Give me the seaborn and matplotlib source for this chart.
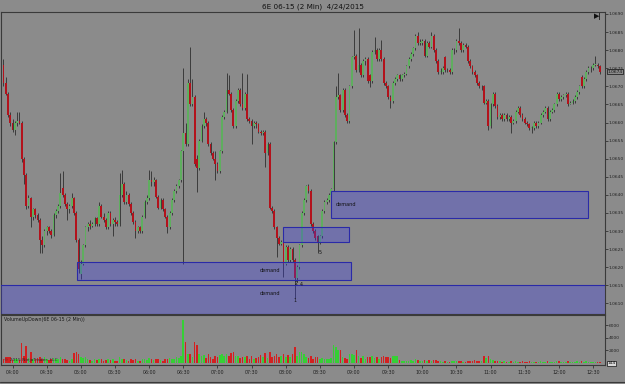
import numpy as np
import pandas as pd
import matplotlib
matplotlib.use("Agg")
import matplotlib.pyplot as plt
import seaborn as sns
from matplotlib.patches import Rectangle

# ---------------- data ----------------
title = "6E 06-15 (2 Min)  4/24/2015"
start_minute = 232          # 03:52, first bar
bar_minutes = 2
base_price = 1.0600         # prices below are in pips above this

open_pips = [
    76, 71, 68, 62, 60, 58, 60, 60.5, 60, 50,
    45.5, 37, 39, 34, 36, 34.5, 33, 27.5, 26, 30,
    31, 30, 29, 34.5, 35.5, 37, 42, 40, 37.5, 36,
    37, 39, 35, 27.5, 18, 21, 26, 31, 32, 31.5,
    32, 33.5, 32, 37, 34, 33, 31, 35, 32, 33,
    32.5, 32, 40, 43, 38, 40, 37.5, 35, 32.5, 30,
    31, 30, 34, 38, 39, 44, 43.5, 44, 39.5, 36.5,
    38.5, 36, 34, 31, 35, 38.5, 41, 42.5, 44, 52,
    57, 54, 71, 65, 67, 50, 47.5, 55, 59, 61,
    60, 54, 51.5, 50, 48.5, 46.5, 52, 61.5, 63, 69,
    68, 63.5, 59, 66, 69, 65, 64, 68, 61, 60.5,
    59, 60, 59.5, 57.5, 57, 57.5, 51.5, 54, 36.5, 35.5,
    31, 28, 26.5, 27, 21, 25.5, 22, 25, 22, 17,
    20, 26, 35, 38.5, 42.5, 41, 32, 30, 28.5, 27,
    28.5, 35.5, 38, 38.5, 40, 41.5, 54.5, 67, 67.5, 63.5,
    69, 62, 60.5, 70, 78, 78.5, 74.5, 76, 73, 77,
    77.5, 73, 71.5, 79.5, 80, 77.5, 80, 77.5, 71, 70,
    67, 66, 71, 72, 73, 72, 73, 73.5, 75.5, 77.5,
    79, 80.5, 84, 82, 82, 82.5, 78.5, 82, 81, 84,
    80, 77, 74, 74, 78, 74.5, 74.5, 74, 80, 80,
    82.5, 82, 80, 81.5, 81, 77, 75.5, 74, 73, 71,
    70, 70, 65.5, 66, 59, 65, 68, 64.5, 61.5, 62,
    61, 62, 61, 61.5, 60, 60.5, 63, 64, 62, 61,
    60, 59.5, 58.5, 58.5, 60, 59, 60, 62, 63, 64,
    61, 63, 63.5, 65, 68, 66.5, 67, 67.5, 68, 65,
    65.5, 66, 67, 68.5, 72.5, 70, 72, 74, 75, 75,
    76, 76, 75.5,
]
high_pips = [
    77.5, 72.5, 68.5, 63, 61, 60.5, 63, 63, 60.5, 50.5,
    46, 40, 39.5, 36.5, 36.5, 35, 33.5, 28.5, 30.5, 31.5,
    31.5, 30.5, 35, 36, 37.5, 46, 46.5, 40.5, 38, 37.5,
    40.5, 39.5, 35.5, 28, 22, 26.5, 31.5, 32.5, 33, 32.5,
    34, 34, 38, 37.5, 35, 33.5, 35.5, 35.5, 33.5, 34,
    33, 46, 47, 43.5, 41, 40.5, 38, 35.5, 33, 31.5,
    31.5, 34.5, 38.5, 40, 47, 46.5, 45, 44.5, 40, 39,
    39, 36.5, 34.5, 35.5, 39, 41.5, 43, 44.5, 52.5, 75,
    60, 72, 81, 72, 67.5, 51, 55.5, 59.5, 63, 61.5,
    60.5, 54.5, 52, 52, 49, 52.5, 62, 63.5, 73.7, 73,
    68.5, 64, 66.5, 69.5, 69.5, 73.7, 68.5, 73.5, 61.5, 61,
    60.5, 60.5, 60, 58, 58, 58, 54.5, 54.5, 37, 36,
    31.5, 28.5, 27.5, 27.5, 26, 26, 25.5, 25.5, 22.5, 20.5,
    26.5, 35.5, 39, 42.7, 43, 41.5, 32.5, 30.5, 29, 29,
    36, 38.5, 39, 40.5, 42, 55, 70, 73.7, 68, 69.5,
    69.5, 62.5, 70.5, 78.5, 85.6, 79, 86, 76.5, 77.5, 78,
    78, 73.5, 80, 83.6, 80.5, 80.5, 82.8, 78, 71.5, 70.5,
    67.5, 71.5, 72.5, 73.5, 73.5, 73.5, 74, 76, 78, 79.5,
    81, 84.5, 85, 83, 83, 83, 82.5, 82.5, 85, 84.5,
    80.5, 77.5, 75, 75.5, 78.5, 75, 75, 80.5, 80.5, 83,
    86, 82.5, 82, 82, 81.5, 77.5, 76, 74.5, 73.5, 71.5,
    70.5, 70.5, 66.5, 66.5, 65.5, 68.5, 68.5, 65, 62.5, 62.5,
    62.5, 62.5, 62, 62, 61, 63.5, 64.5, 64.5, 62.5, 61.5,
    60.5, 60, 59, 60.5, 60.5, 60.5, 62.5, 63.5, 64.5, 64.5,
    63.5, 64, 65.5, 68.5, 68.5, 67.5, 68, 68.5, 68.5, 66,
    66.5, 67.5, 69, 70.5, 73, 72.5, 74.5, 75.5, 75.5, 76.5,
    78.5, 76.5, 76,
]
low_pips = [
    70, 67.5, 61.5, 59, 57.5, 56.5, 59, 59.5, 49, 43,
    36, 36.5, 31, 33, 33.5, 32.5, 24, 24, 25.5, 29,
    29.5, 28, 28.5, 33.5, 35, 36.5, 39.5, 37, 33, 35,
    36.5, 34.5, 27, 18.5, 16.8, 20.5, 25.5, 30, 30.5, 31,
    31.5, 31.5, 31.5, 33.5, 32.5, 30.5, 30.5, 31.5, 28.5, 31.5,
    31.5, 31.5, 39.5, 37.5, 37.5, 37, 34.5, 32, 28, 29.5,
    29.5, 29.5, 33.5, 37.5, 38.5, 42.5, 42.5, 39, 36, 36,
    35.5, 33.5, 29.4, 30.5, 34.5, 38, 40.5, 42, 43.5, 21,
    53.5, 53.5, 64.5, 64.5, 48, 40.7, 47, 54.5, 58.5, 59,
    53.5, 51, 49.5, 44, 46, 46, 51.5, 61, 62.5, 67.5,
    63, 58.5, 58.5, 65.5, 64.5, 63.5, 63.5, 60.5, 60, 54,
    58.5, 58.5, 57, 56.5, 56.5, 47.6, 51, 36, 35, 30.5,
    22.7, 26, 26, 17.2, 20.5, 21.5, 21.5, 21.5, 11.6, 16,
    19.5, 25.5, 34.5, 38, 40.5, 31.5, 29.5, 27.5, 23.8, 26.5,
    28, 35, 37.5, 38, 39.5, 41, 54, 66.5, 63, 63,
    61.5, 59.8, 60, 69.5, 77.5, 74, 74, 72.5, 72.5, 76,
    71, 69.8, 71, 79, 77, 77, 77, 70.5, 69.5, 66.5,
    64, 65.5, 70.5, 71.5, 71.5, 71.5, 72.5, 73, 75, 77,
    78.5, 80, 81.5, 81.5, 81.5, 78, 78, 80.5, 80.5, 79.5,
    76.5, 73.5, 73.5, 73.5, 74, 74, 73.5, 73.5, 79, 79.5,
    81.5, 79.5, 79.5, 80.5, 76.5, 75, 73.5, 72.5, 70.5, 69.5,
    69, 65, 65, 57.9, 58.5, 64.5, 64, 61, 61, 60.5,
    60.5, 60.5, 60.5, 57, 59.5, 60, 62.5, 61.5, 60.5, 59.5,
    59, 58, 57, 58, 58.5, 58.5, 59.5, 61.5, 62.5, 60.5,
    60.5, 62.5, 63, 64.5, 66, 66, 66.5, 67, 64.5, 65,
    65, 65.5, 66.5, 68, 69.5, 69.5, 71.5, 73.5, 74, 74.5,
    75.5, 75, 73.5,
]
close_pips = [
    71, 68, 62, 60, 58, 60, 60.5, 60, 50, 45.5,
    37, 39, 34, 36, 34.5, 33, 27.5, 26, 30, 31,
    30, 29, 34.5, 35.5, 37, 40.5, 40, 37.5, 36, 37,
    39, 35, 27.5, 19.5, 21, 26, 31, 32, 31.5, 32,
    33.5, 32, 37, 34, 33, 31, 35, 32, 33, 32.5,
    32, 40, 43, 38, 40, 37.5, 35, 32.5, 30, 31,
    30, 34, 38, 39, 44, 43.5, 44, 39.5, 36.5, 38.5,
    36, 34, 31, 35, 38.5, 41, 42.5, 44, 52, 57,
    54, 71, 65, 67, 48.5, 47.5, 55, 59, 61, 60,
    54, 51.5, 50, 48.5, 46.5, 52, 61.5, 63, 69, 68,
    63.5, 59, 66, 69, 65, 64, 68, 61, 60.5, 59,
    60, 59.5, 57.5, 57, 57.5, 51.5, 54, 36.5, 35.5, 31,
    28, 26.5, 27, 21, 25.5, 22, 25, 22, 17, 20,
    26, 35, 38.5, 42.5, 41, 32, 30, 28, 27, 28.5,
    35.5, 38, 38.5, 40, 41.5, 54.5, 67, 67.5, 63.5, 69,
    62, 60.5, 70, 78, 78.5, 74.5, 76, 73, 77, 77.5,
    71.5, 71.5, 79.5, 80, 77.5, 80, 77.5, 71, 70, 67,
    66, 71, 72, 73, 72, 73, 73.5, 75.5, 77.5, 79,
    80.5, 84, 82, 82, 82.5, 78.5, 82, 81, 84, 80,
    77, 74, 74, 75, 74.5, 74.5, 74, 80, 80, 82.5,
    82, 80, 81.5, 81, 77, 75.5, 74, 73, 71, 70,
    70, 65.5, 66, 59, 65, 68, 64.5, 61.5, 62, 61,
    62, 61, 61.5, 60, 60.5, 63, 64, 62, 61, 60,
    59.5, 58.5, 58.5, 60, 59, 60, 62, 63, 64, 61,
    63, 63.5, 65, 68, 66.5, 67, 67.5, 68, 65, 65.5,
    66, 67, 68.5, 70, 70, 72, 74, 75, 75, 76,
    76, 75.5, 74,
]
volume = [
    600, 900, 1000, 900, 500, 700, 600, 500, 3200, 1100,
    2700, 800, 1800, 700, 600, 800, 1000, 700, 900, 600,
    500, 700, 800, 600, 700, 900, 600, 700, 500, 400,
    600, 1600, 1800, 1400, 900, 800, 900, 700, 500, 400,
    600, 500, 700, 600, 400, 500, 600, 500, 700, 400,
    300, 900, 700, 600, 500, 400, 600, 500, 700, 400,
    300, 600, 700, 500, 800, 600, 500, 700, 600, 500,
    400, 600, 700, 800, 600, 700, 900, 800, 1200, 6800,
    3300, 1500, 1400, 900, 3300, 2800, 1500, 1200, 1300, 800,
    1400, 900, 700, 1100, 900, 1300, 1500, 1200, 1500, 1100,
    1600, 1700, 1200, 1100, 800, 1000, 900, 1200, 700, 1100,
    600, 800, 1000, 1300, 900, 1600, 800, 1800, 1000, 1200,
    1500, 900, 1100, 1500, 900, 1300, 1000, 1400, 2500, 1200,
    1700, 1800, 1500, 900, 800, 1200, 700, 900, 1000, 700,
    800, 700, 600, 700, 800, 2800, 2500, 2000, 2100, 900,
    800, 700, 1500, 1500, 1300, 2000, 1200, 800, 1100, 700,
    1000, 900, 1200, 800, 900, 700, 1000, 1100, 900, 1000,
    800, 1200, 1200, 1100, 500, 400, 350, 400, 300, 450,
    300, 600, 500, 400, 350, 500, 400, 450, 300, 500,
    450, 400, 300, 250, 350, 250, 200, 400, 300, 350,
    300, 400, 250, 200, 400, 350, 300, 450, 350, 300,
    300, 1200, 800, 1100, 600, 500, 400, 350, 300, 250,
    300, 250, 200, 300, 250, 300, 250, 200, 300, 250,
    200, 300, 250, 200, 250, 200, 300, 250, 200, 300,
    250, 200, 250, 300, 400, 250, 200, 250, 400, 250,
    200, 250, 300, 250, 300, 250, 300, 200, 250, 200,
    250, 200, 144,
]

# demand zones: (start minute, end minute, low pips, high pips)
zone_start = [297, 229, 477.6, 519.7]
zone_end = [537.3, 770, 535.5, 745.2]
zone_low = [16.4, 7.0, 26.9, 33.5]
zone_high = [21.3, 15.0, 31.0, 41.0]
zone_label = ["demand", "demand", "", "demand"]
zone_label_x = [466, 466, 0, 533]
zone_label_y = [19.1, 12.8, 0, 37.4]

swing_labels = ["1", "2", "4", "5"]
swing_x = [488, 489.5, 494, 510]
swing_y = [10.9, 15.6, 15.3, 24.0]

price_ticks = [1.0610, 1.0615, 1.0620, 1.0625, 1.0630, 1.0635, 1.0640, 1.0645,
               1.0650, 1.0655, 1.0660, 1.0665, 1.0670, 1.0675, 1.0680, 1.0685, 1.0690]
time_labels = ["04:00", "04:30", "05:00", "05:30", "06:00", "06:30", "07:00", "07:30",
               "08:00", "08:30", "09:00", "09:30", "10:00", "10:30", "11:00", "11:30",
               "12:00", "12:30"]
volume_ticks = [2000, 4000, 6000]
volume_title = "VolumeUpDown(6E 06-15 (2 Min))"
copyright_text = "\u00A9 2015 NinjaTrader, LLC"

n = len(close_pips)
lens = [len(open_pips), len(high_pips), len(low_pips), len(close_pips), len(volume)]
assert len(set(lens)) == 1, lens

# ---------------- frame ----------------
def p(v):
    return base_price + np.asarray(v, dtype=float) / 10000.0

df = pd.DataFrame({
    "t": start_minute + bar_minutes * np.arange(n),
    "open": p(open_pips), "high": p(high_pips), "low": p(low_pips),
    "close": p(close_pips), "volume": volume,
})
df["dir"] = np.where(df["close"] >= df["open"], "up", "down")

BG = "#8b8b8b"
UP = "#5fae5f"
DOWN = "#b3121c"
WICK = "#262626"
FRAME = "#3a3a3a"

sns.set_theme(style="white")
plt.rcParams["font.family"] = ["DejaVu Sans"]
plt.rcParams["axes.facecolor"] = BG

W, H = 625, 384
fig = plt.figure(figsize=(W / 100, H / 100), dpi=100, facecolor=BG)

def ax_rect(x0, y0, x1, y1):
    return [x0 / W, 1 - y1 / H, (x1 - x0) / W, (y1 - y0) / H]

ax = fig.add_axes(ax_rect(0.5, 12, 605, 313.5))
axv = fig.add_axes(ax_rect(0.5, 315, 605, 365), sharex=ax)
for a in (ax, axv):
    a.set_facecolor(BG)
    for s in a.spines.values():
        s.set_color(FRAME)
        s.set_linewidth(0.8)

# candles
ax.vlines(df["t"], df["low"], df["high"], color=WICK, lw=0.55, zorder=2)
body_lo = np.minimum(df["open"], df["close"])
body_h = np.maximum((df["close"] - df["open"]).abs(), 0.000012)
ax.bar(df["t"], body_h, bottom=body_lo, width=1.55,
       color=np.where(df["dir"] == "up", UP, DOWN), edgecolor="none",
       linewidth=0, zorder=3)

# demand zones (semi transparent, drawn over candles)
for xs, xe, lo, hi in zip(zone_start, zone_end, zone_low, zone_high):
    ax.add_patch(Rectangle((xs, p(lo)), xe - xs, p(hi) - p(lo),
                           facecolor=(0.22, 0.22, 0.95, 0.30),
                           edgecolor="#2a2aa8", lw=0.8, zorder=4))
for lab, lx, ly in zip(zone_label, zone_label_x, zone_label_y):
    if lab:
        ax.text(lx, p(ly), lab, fontsize=3.6, color="#111111",
                ha="center", va="center", zorder=5)
for lab, lx, ly in zip(swing_labels, swing_x, swing_y):
    ax.text(lx, p(ly), lab, fontsize=3.4, color="#111111",
            ha="center", va="center", zorder=5)

ax.set_ylim(p(7.2), p(90.55))
ax.set_xlim(229.4, 760.5)
ax.yaxis.tick_right()
ax.set_yticks(price_ticks)
ax.set_yticklabels([f"{v:.4f}" for v in price_ticks])
ax.tick_params(axis="y", which="both", right=True, length=1.8, width=0.5,
               colors="#222222", labelsize=3.2, pad=0.6)
ax.tick_params(axis="x", bottom=False, labelbottom=False)
ax.set_xlabel("")
ax.set_ylabel("")

# last price marker
last = df["close"].iloc[-1]
ax.annotate(f"{last:.4f}", xy=(1, last), xycoords=("axes fraction", "data"),
            xytext=(1.8, 0), textcoords="offset points", fontsize=3.2,
            va="center", ha="left", color="#111111", annotation_clip=False,
            bbox=dict(boxstyle="square,pad=0.12", fc=BG, ec="#111111", lw=0.5))

# volume panel
sns.barplot(data=df, x="t", y="volume", hue="dir",
            palette={"up": "#35d035", "down": "#d42020"},
            native_scale=True, dodge=False, width=0.7, saturation=1,
            errorbar=None, legend=False, edgecolor="none", linewidth=0, ax=axv)
axv.set_ylim(-300, 7600)
axv.set_xlim(229.4, 760.5)
axv.yaxis.tick_right()
axv.set_yticks(volume_ticks)
axv.set_yticklabels([str(v) for v in volume_ticks])
axv.tick_params(axis="y", right=True, length=1.8, width=0.5,
                colors="#222222", labelsize=3.2, pad=0.6)
tick_pos = [240 + 30 * i for i in range(len(time_labels))]
axv.set_xticks(tick_pos)
axv.set_xticklabels(time_labels)
axv.tick_params(axis="x", bottom=True, length=2, width=0.5,
                colors="#222222", labelsize=3.4, pad=1.5)
axv.set_xlabel("")
axv.set_ylabel("")
axv.annotate(str(volume[-1]), xy=(1, 0), xycoords=("axes fraction", "data"),
             xytext=(1.8, 0), textcoords="offset points", fontsize=3.2,
             va="center", ha="left", color="#111111", annotation_clip=False,
             bbox=dict(boxstyle="square,pad=0.12", fc="#d8d8d8", ec="#111111", lw=0.5))
axv.text(0.005, 0.9, volume_title, transform=axv.transAxes,
         fontsize=3.4, color="#1a1a1a", ha="left", va="center")
axv.text(0.005, 0.1, copyright_text, transform=axv.transAxes,
         fontsize=3.2, color="#2a2a2a", ha="left", va="center", zorder=6)

# title and chrome
fig.text(0.5, 1 - 6.5 / H, title, fontsize=5.2, color="#111111", ha="center", va="center")
fig.text(598 / W, 1 - 17 / H, "\u25B6|", fontsize=5, color="#111111",
         ha="center", va="center", weight="bold")
fig.add_artist(plt.Line2D([0, 1], [1 - 382 / H, 1 - 382 / H], color=FRAME, lw=0.8))

fig.savefig("out.png", dpi=100, facecolor=BG)
